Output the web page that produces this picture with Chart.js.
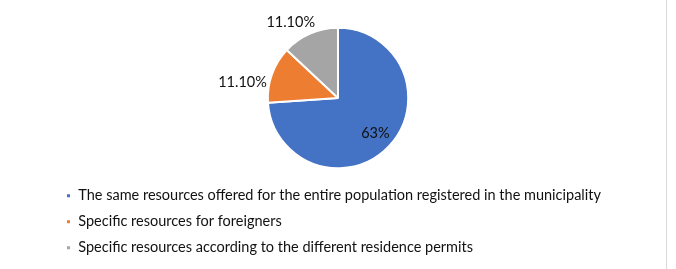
<!DOCTYPE html>
<html>
<head>
<meta charset="utf-8">
<script src="https://cdn.jsdelivr.net/npm/chart.js@4"></script>
<style>
  html, body { margin: 0; padding: 0; background: #fff; }
  #wrap { position: relative; width: 676px; height: 269px; }
  #frame { position: absolute; left: 666px; top: 0; width: 1px; height: 269px; background: #d9d9d9; }
</style>
</head>
<body>
<div id="wrap">
  <canvas id="c" width="676" height="269"></canvas>
  <div id="frame"></div>
</div>
<script>
const categories = [
  'The same resources offered for the entire population registered in the municipality',
  'Specific resources for foreigners',
  'Specific resources according to the different residence permits'
];
const values = [63, 11.1, 11.1];
const valueLabels = ['63%', '11.10%', '11.10%'];
const colors = ['#4472C4', '#ED7D31', '#A5A5A5'];

const FONT = 'Lato';
const FONT_SIZE = 14.5;

const labelPlugin = {
  id: 'sliceLabels',
  afterDatasetsDraw(chart) {
    const ctx = chart.ctx;
    const meta = chart.getDatasetMeta(0);
    ctx.save();
    ctx.font = FONT_SIZE + 'px "' + FONT + '"';
    ctx.fillStyle = '#111';
    ctx.textBaseline = 'middle';
    ctx.textAlign = 'center';
    meta.data.forEach((arc, i) => {
      const p = arc.getProps(['x', 'y', 'startAngle', 'endAngle', 'outerRadius'], true);
      const mid = (p.startAngle + p.endAngle) / 2;
      const span = p.endAngle - p.startAngle;
      const dx = Math.cos(mid), dy = Math.sin(mid);
      const text = valueLabels[i];
      if (span > Math.PI / 2) {
        const r = p.outerRadius * 0.73;
        ctx.fillText(text, p.x + dx * r, p.y + dy * r);
      } else {
        const w = ctx.measureText(text).width;
        const h = 14;
        const px = p.x + dx * p.outerRadius, py = p.y + dy * p.outerRadius;
        const sx = dx < 0 ? -1 : 1, sy = dy < 0 ? -1 : 1;
        let cx, cy;
        if (Math.abs(dy) > Math.abs(dx)) {
          cx = px - sx * 5 + sx * w / 2;
          cy = py + sy * 6 + sy * h / 2 + 2;
        } else {
          cx = px + sx * 5 + sx * w / 2;
          cy = py - sy * h / 2 + 1;
        }
        ctx.fillText(text, cx, cy);
      }
    });
    ctx.restore();
  }
};

new Chart(document.getElementById('c'), {
  type: 'pie',
  data: {
    labels: categories,
    datasets: [{
      data: values,
      backgroundColor: colors,
      borderColor: '#ffffff',
      borderWidth: 2,
      radius: '90%'
    }]
  },
  options: {
    responsive: false,
    animation: false,
    layout: { padding: { top: 19, bottom: 4, left: 54.5, right: 54.5 } },
    plugins: {
      legend: {
        position: 'bottom',
        align: 'start',
        labels: {
          boxWidth: 5,
          boxHeight: 5,
          padding: 11.5,
          color: '#111',
          font: { family: FONT, size: FONT_SIZE }
        }
      },
      tooltip: { enabled: false }
    }
  },
  plugins: [labelPlugin]
});
</script>
</body>
</html>
